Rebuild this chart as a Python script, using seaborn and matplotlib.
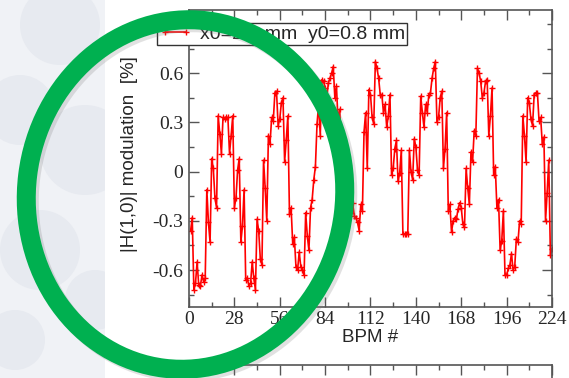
import numpy as np
import pandas as pd
import matplotlib
matplotlib.use("Agg")
import matplotlib.pyplot as plt
import seaborn as sns
from matplotlib.patches import Ellipse, Rectangle, Circle
from matplotlib.ticker import MultipleLocator, FixedLocator, FixedFormatter

# ---------------- data ----------------
bpm = list(range(1, 225))
modulation = [
    -0.36, -0.28, -0.72, -0.68, -0.55, -0.69, -0.70, -0.63, -0.67, -0.65,   # 1-10
    -0.11, -0.31, -0.43, 0.08, 0.02, -0.16, -0.22, 0.34, 0.23, 0.11,        # 11-20
    0.33, 0.32, 0.33, 0.33, 0.11, 0.22, 0.34, -0.22, -0.16, 0.01,           # 21-30
    0.08, -0.43, -0.33, -0.11, -0.66, -0.65, -0.70, -0.68, -0.55, -0.65,    # 31-40
    -0.72, -0.29, -0.36, -0.53, -0.57, 0.07, -0.10, -0.30, 0.22, 0.17,      # 41-50
    0.33, 0.31, 0.48, 0.49, 0.28, 0.32, 0.42, 0.45, 0.06, 0.19,             # 51-60
    0.34, -0.26, -0.22, -0.44, -0.40, -0.58, -0.60, -0.49, -0.58, -0.60,    # 61-70
    -0.63, -0.25, -0.39, -0.48, -0.22, -0.17, -0.05, 0.03, 0.29, 0.41,      # 71-80
    0.22, 0.56, 0.55, 0.51, 0.45, 0.54, 0.57, 0.60, 0.64, 0.45,             # 81-90
    0.52, 0.30, 0.38, 0.12, 0.20, -0.05, 0.02, -0.18, -0.10, -0.25,         # 91-100
    -0.19, -0.27, -0.28, -0.31, -0.36, -0.20, -0.24, 0.24, 0.36, 0.02,      # 101-110
    0.50, 0.47, 0.33, 0.29, 0.67, 0.63, 0.57, 0.47, 0.47, 0.36,             # 111-120
    0.41, 0.27, 0.34, 0.47, -0.02, 0.02, 0.14, 0.19, -0.06, -0.01,          # 121-130
    0.13, -0.38, -0.38, -0.38, -0.38, 0.13, 0.00, -0.05, 0.20, 0.15,        # 131-140
    0.01, -0.02, 0.46, 0.36, 0.27, 0.41, 0.36, 0.47, 0.48, 0.57,            # 141-150
    0.63, 0.67, 0.30, 0.33, 0.45, 0.49, 0.02, 0.14, 0.36, -0.24,            # 151-160
    -0.20, -0.37, -0.30, -0.28, -0.29, -0.23, -0.19, -0.22, -0.32, -0.34,   # 161-170
    0.02, -0.10, -0.20, 0.12, 0.06, 0.25, 0.22, 0.63, 0.60, 0.55,           # 171-180
    0.45, 0.48, 0.55, 0.56, 0.22, 0.34, 0.51, -0.02, 0.03, -0.22,           # 181-190
    -0.17, -0.48, -0.42, -0.24, -0.63, -0.63, -0.59, -0.57, -0.50, -0.60,   # 191-200
    -0.58, -0.41, -0.43, -0.30, -0.32, 0.34, 0.22, 0.06, 0.45, 0.42,        # 201-210
    0.32, 0.28, 0.47, 0.48, 0.48, 0.31, 0.33, 0.17, 0.21, -0.30,            # 211-220
    -0.13, 0.07, -0.51, -0.47,                                              # 221-224
]
x_ticks = [0, 28, 56, 84, 112, 140, 168, 196, 224]
y_ticks = [-0.6, -0.3, 0.0, 0.3, 0.6]
y_tick_labels = ["-0.6", "-0.3", "0", "0.3", "0.6"]
legend_label = "x0=2.4 mm  y0=0.8 mm"
x_label = "BPM #"
y_label = "|H(1,0)| modulation  [%]"

# ---------------- style ----------------
sns.set_style("ticks")
plt.rcParams['font.family'] = ['Liberation Sans', 'DejaVu Sans']
plt.rcParams['axes.unicode_minus'] = False

W, H = 569, 378
fig = plt.figure(figsize=(W / 100, H / 100), dpi=100)
fig.patch.set_facecolor('white')


def px_rect(x0, y0, x1, y1):
    return [x0 / W, 1 - y1 / H, (x1 - x0) / W, (y1 - y0) / H]


# background slide panel (decorative)
bg = fig.add_axes([0, 0, 1, 1], zorder=-5)
bg.set_xlim(0, W)
bg.set_ylim(H, 0)
bg.axis('off')
bg.add_patch(Rectangle((0, 0), 105, H, color='#f0f2f6', lw=0))
for cx, cy, r in [(60, 25, 40), (20, 110, 35), (85, 150, 45), (40, 250, 40),
                  (95, 300, 30), (15, 340, 30)]:
    bg.add_patch(Circle((cx, cy), r, color='#e7eaf0', lw=0))
bg.add_patch(Rectangle((105, 0), W - 105, H, color='white', lw=0))

spine_col = '#555555'
tick_font = {'family': 'Liberation Serif', 'size': 14}

# ---------------- main axes ----------------
ax = fig.add_axes(px_rect(189, 10, 552, 307))
df = pd.DataFrame({'BPM': bpm, 'mod': modulation})
sns.lineplot(data=df, x='BPM', y='mod', ax=ax, color='#ff0000', lw=1.2,
             marker='+', markersize=4, markeredgewidth=1.0,
             markeredgecolor='#ff0000', label=legend_label)

ax.set_xlim(0, 224)
ax.set_ylim(-0.825, 0.985)
ax.xaxis.set_major_locator(FixedLocator(x_ticks))
ax.xaxis.set_minor_locator(MultipleLocator(14))
ax.yaxis.set_major_locator(FixedLocator(y_ticks))
ax.yaxis.set_major_formatter(FixedFormatter(y_tick_labels))
ax.yaxis.set_minor_locator(MultipleLocator(0.15))
ax.tick_params(which='both', direction='in', top=True, right=True,
               color=spine_col, width=1.0)
ax.tick_params(which='major', length=7)
ax.tick_params(which='minor', length=3.5)
ax.tick_params(axis='y', pad=4)
ax.tick_params(axis='x', pad=3)
for lab in ax.get_xticklabels() + ax.get_yticklabels():
    lab.set_fontfamily(tick_font['family'])
    lab.set_fontsize(tick_font['size'])
for s in ax.spines.values():
    s.set_color(spine_col)
    s.set_linewidth(1.2)

ax.set_xlabel(x_label, fontsize=13.5, family='Liberation Sans')
ax.set_ylabel(y_label, fontsize=13.5, family='Liberation Sans')
ax.xaxis.set_label_coords(0.5, -0.075)
ax.yaxis.set_label_coords(-0.14, 0.515)

leg = ax.legend(loc='upper left', bbox_to_anchor=(157 / W, 1 - 23 / H),
                bbox_transform=fig.transFigure, frameon=True, fancybox=False,
                borderpad=0.1, handlelength=1.7, handletextpad=0.4,
                numpoints=2, borderaxespad=0,
                prop={'family': 'Liberation Sans', 'size': 14})
leg.get_frame().set_edgecolor('#333333')
leg.get_frame().set_linewidth(1.0)
leg.get_frame().set_alpha(1)

# ---------------- partially visible lower panel ----------------
ax2 = fig.add_axes([189 / W, -40 / H, 363 / W, (40 + 13) / H])
ax2.set_xlim(0, 224)
ax2.xaxis.set_major_locator(FixedLocator(x_ticks))
ax2.xaxis.set_minor_locator(MultipleLocator(14))
ax2.set_yticks([])
ax2.tick_params(which='both', direction='in', top=True, bottom=False,
                labeltop=False, labelbottom=False, color=spine_col, width=1.0)
ax2.tick_params(which='major', length=7)
ax2.tick_params(which='minor', length=3.5)
ax2.spines['bottom'].set_visible(False)
for k in ('top', 'left', 'right'):
    ax2.spines[k].set_color(spine_col)
    ax2.spines[k].set_linewidth(1.2)

# ---------------- green highlight ring (overlay) ----------------
ov = fig.add_axes([0, 0, 1, 1], zorder=20)
ov.set_xlim(0, W)
ov.set_ylim(H, 0)
ov.axis('off')
ov.patch.set_alpha(0)
ring_lw = 19 * 72 / 100
ov.add_patch(Ellipse((188.5, 197.5), 318, 350, angle=7, fill=False,
                     ec='#7a7a7a', lw=ring_lw, alpha=0.22))
ov.add_patch(Ellipse((185.5, 194.5), 318, 350, angle=7, fill=False,
                     ec='#00b050', lw=ring_lw))

fig.savefig('out.png', dpi=100, facecolor=fig.get_facecolor())
